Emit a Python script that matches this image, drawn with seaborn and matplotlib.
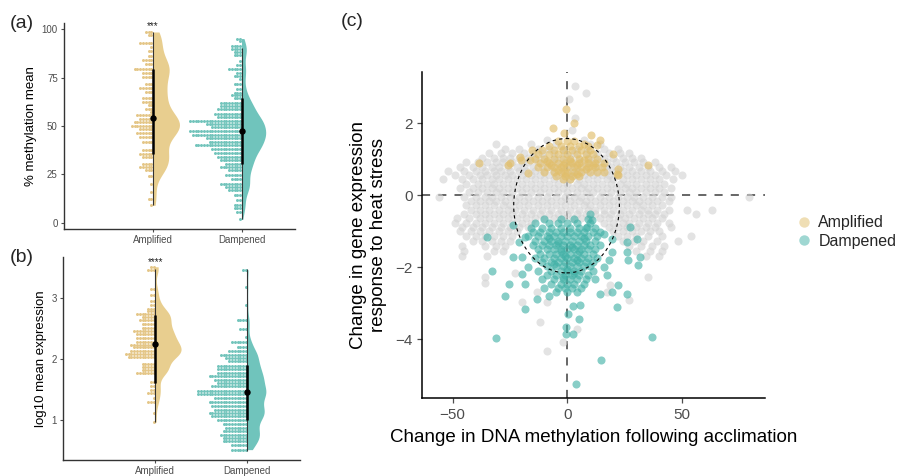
import numpy as np
import pandas as pd
import matplotlib
matplotlib.use("Agg")
import matplotlib.pyplot as plt
import seaborn as sns
from matplotlib.patches import Rectangle, Ellipse
from matplotlib.lines import Line2D

sns.set_theme(style="ticks")
plt.rcParams['font.family'] = ['Liberation Sans', 'DejaVu Sans']

# ---------------- data ----------------
groups = ["Amplified", "Dampened"]
col_amp = "#E1BE6A"
col_damp = "#40B0A6"
col_gray = "#D3D3D3"
dot_cols = ["#E4C687", "#72C4BB"]

# (a) % methylation mean : dot-plot rows (value, count)
a_amp_vals = [98.6, 96.9, 93.1, 90.8, 88.6, 86.2, 84.0, 82.2, 79.6, 77.6, 75.3, 71.9, 69.6,
              67.6, 64.5, 62.4, 60.7, 58.6, 57.2, 55.8, 53.8, 52.1, 50.0, 48.3, 46.2, 44.5,
              41.7, 37.4, 35.7, 34.0, 30.5, 28.8, 27.1, 24.1, 20.2, 15.9, 12.4, 9.0]
a_amp_counts = [3, 2, 5, 1, 2, 2, 4, 3, 7, 4, 4, 3, 5, 3, 4, 4, 2, 3, 1, 6, 5, 7, 8, 5, 6, 5,
                4, 4, 5, 4, 4, 5, 3, 2, 1, 1, 2, 1]
a_damp_vals = [95.2, 93.8, 91.4, 89.6, 88.3, 86.9, 83.4, 81.7, 79.6, 77.6, 75.9, 74.1, 71.7,
               69.3, 67.2, 65.9, 64.5, 62.1, 60.3, 58.6, 56.4, 54.7, 52.6, 51.0, 49.5, 47.2,
               45.5, 43.8, 41.7, 40.0, 38.3, 36.2, 34.2, 32.4, 30.5, 28.8, 27.1, 24.8, 22.8,
               20.2, 18.5, 16.7, 14.2, 11.6, 9.3, 7.6, 5.5, 1.7]
a_damp_counts = [2, 1, 4, 4, 3, 3, 1, 2, 5, 2, 3, 1, 3, 2, 3, 4, 3, 8, 8, 9, 10, 9, 19, 13, 11,
                 19, 18, 13, 12, 17, 11, 10, 9, 8, 6, 8, 5, 6, 4, 8, 6, 5, 3, 2, 3, 3, 2, 1]
a_point = [54.3, 47.6]
a_thick = [(35.7, 79.6), (30.5, 64.5)]
a_thin = [(9.0, 98.6), (2.0, 90.5)]
a_stars = "***"
a_violin_width = [0.60, 0.54]

# (b) log10 mean expression : dot-plot rows (value, count)
b_amp_vals = [3.52, 3.47, 3.16, 3.06, 2.96, 2.90, 2.83, 2.79, 2.74, 2.69, 2.64, 2.58, 2.52,
              2.46, 2.41, 2.35, 2.29, 2.24, 2.20, 2.14, 2.09, 2.04, 1.93, 1.88, 1.83, 1.78,
              1.63, 1.57, 1.50, 1.45, 1.37, 1.30, 1.12, 0.97]
b_amp_counts = [2, 3, 2, 2, 2, 2, 3, 3, 7, 5, 6, 5, 5, 8, 7, 7, 7, 9, 8, 9, 11, 10, 5, 5, 5, 7,
                2, 2, 2, 3, 1, 3, 1, 1]
b_damp_vals = [3.47, 3.18, 2.90, 2.64, 2.50, 2.36, 2.28, 2.21, 2.13, 2.08, 2.02, 1.97, 1.90,
               1.85, 1.78, 1.72, 1.67, 1.61, 1.56, 1.49, 1.43, 1.37, 1.30, 1.23, 1.17, 1.12,
               1.07, 1.01, 0.94, 0.87, 0.82, 0.76, 0.71, 0.66, 0.59, 0.52]
b_damp_counts = [2, 1, 1, 4, 3, 1, 6, 4, 7, 10, 8, 7, 11, 11, 11, 14, 12, 11, 13, 18, 18, 12,
                 14, 13, 12, 14, 13, 11, 9, 8, 9, 10, 9, 9, 6, 6]
b_point = [2.26, 1.46]
b_thick = [(1.62, 2.73), (1.00, 1.91)]
b_thin = [(0.98, 3.48), (0.50, 3.48)]
b_stars = "****"
b_violin_width = [0.56, 0.40]

# (c) scatter: gray cloud given as rows (y, [x values])
gray_rows = [
    (3.04, [3.3]), (2.85, [8.1]), (2.69, [0.6]), (2.14, [3.3]), (1.81, [1.9]),
    (1.55, [-9, 7]),
    (1.42, [-31, -16, -5, 10, 14]),
    (1.30, [-27, -21, -13, -8, -2, 4, 9, 16, 22]),
    (1.17, [-34, -29, -24, -19, -15, -11, -6, -1, 3, 8, 13, 18, 23, 27]),
    (1.04, [-37, -32, -28, -25, -21, -17, -14, -10, -6, -3, 1, 5, 9, 12, 16, 20, 24, 28, 32]),
    (0.92, [-44, -39, -35, -31, -28, -24, -20, -17, -13, -9, -5, -1, 2, 6, 10, 14, 17, 21, 25, 29, 33, 38]),
    (0.80, [-47, -41, -37, -33, -30, -26, -22, -19, -15, -11, -7, -3, 1, 4, 8, 12, 16, 19, 23, 27, 31, 35, 40, 45]),
    (0.68, [-52, -45, -40, -36, -32, -29, -25, -21, -18, -14, -10, -6, -2, 2, 5, 9, 13, 17, 21, 24, 28, 32, 36, 41, 47]),
    (0.56, [-49, -43, -38, -35, -31, -27, -24, -20, -16, -12, -8, -4, 0, 3, 7, 11, 15, 18, 22, 26, 30, 34, 38, 43, 50]),
    (0.44, [-54, -46, -41, -37, -33, -30, -26, -22, -18, -14, -10, -6, -2, 1, 5, 9, 13, 17, 20, 24, 28, 32, 36, 40, 46]),
    (0.32, [-44, -39, -35, -32, -28, -24, -20, -16, -12, -8, -4, 0, 4, 7, 11, 15, 19, 23, 26, 30, 34, 38, 42]),
    (0.20, [-47, -41, -37, -33, -30, -26, -22, -18, -14, -10, -6, -2, 2, 6, 9, 13, 17, 21, 25, 28, 32, 36, 40, 45]),
    (0.08, [-43, -39, -35, -31, -28, -24, -20, -16, -12, -8, -4, 0, 4, 8, 11, 15, 19, 23, 27, 30, 34, 38, 42]),
    (-0.04, [-56, -45, -40, -36, -33, -29, -25, -21, -17, -13, -9, -5, -1, 3, 6, 10, 14, 18, 22, 26, 29, 33, 37, 41, 45, 79]),
    (-0.16, [-42, -38, -34, -31, -27, -23, -19, -15, -11, -7, -3, 1, 5, 8, 12, 16, 20, 24, 28, 31, 35, 39, 44]),
    (-0.28, [-44, -40, -36, -32, -28, -25, -21, -17, -13, -9, -5, -1, 3, 7, 10, 14, 18, 22, 26, 30, 33, 37, 41]),
    (-0.40, [-42, -38, -34, -30, -26, -23, -19, -15, -11, -7, -3, 1, 5, 9, 12, 16, 20, 24, 28, 32, 35, 39, 44, 52, 63]),
    (-0.52, [-45, -40, -36, -32, -28, -24, -20, -16, -12, -8, -4, 0, 4, 8, 12, 16, 19, 23, 27, 31, 35, 38, 42, 56]),
    (-0.64, [-48, -43, -38, -34, -30, -26, -22, -18, -14, -10, -6, -2, 2, 6, 10, 14, 18, 22, 25, 29, 33, 37, 41]),
    (-0.76, [-49, -44, -40, -36, -32, -28, -24, -20, -16, 16, 20, 24, 27, 31, 35, 39, 44]),
    (-0.88, [-46, -41, -37, -33, -29, -25, -21, -17, 18, 22, 26, 30, 34, 38, 45]),
    (-1.00, [-47, -42, -38, -34, -30, -26, -22, 20, 24, 28, 32, 36, 40]),
    (-1.12, [-44, -40, -36, -32, -28, -24, 22, 26, 30, 35, 41, 54]),
    (-1.26, [-41, -37, -33, -29, -25, 24, 29, 33, 39, 48]),
    (-1.40, [-46, -36, -31, -27, 27, 32, 37, 42]),
    (-1.55, [-45, -32, -28, 30, 36, 41]),
    (-1.68, [-46, -35, 34, 40]),
    (-2.15, [-23]), (-2.27, [-36, 35]), (-2.45, [-36]), (-2.51, [18.6]),
    (-2.69, [-13.3, 17]), (-2.92, [27]), (-2.97, [-20, -9]),
    (-3.53, [-12]), (-3.71, [4]), (-4.09, [-2]), (-4.32, [-9]),
]

amp_pts = [(-38.7, 0.91), (-24.9, 0.91), (-25.7, 0.84), (-20.6, 1.07), (-16.2, 0.97),
           (-17.0, 0.63), (-15.5, 1.25), (35.2, 0.84), (22.2, 0.74), (22.2, 0.56),
           (20.0, 1.16), (15.7, 0.65), (14.2, 1.53), (12.8, 1.39), (10.3, 1.67), (7.0, 1.44),
           (-6.1, 1.86), (-1.7, 1.72), (3.0, 2.02), (-0.6, 2.41), (-20.3, 0.99), (21.5, 0.60),
           (-4, 1.50), (0, 1.50), (3, 1.50),
           (-8, 1.38), (-3, 1.38), (1, 1.38), (5, 1.38), (9, 1.38),
           (-11, 1.26), (-6, 1.26), (-2, 1.26), (2, 1.26), (6, 1.26), (10, 1.26),
           (-13, 1.14), (-8, 1.14), (-4, 1.14), (0, 1.14), (4, 1.14), (8, 1.14), (11, 1.14),
           (-14, 1.02), (-10, 1.02), (-6, 1.02), (-2, 1.02), (1, 1.02), (5, 1.02), (9, 1.02), (13, 1.02),
           (-12, 0.90), (-8, 0.90), (-4, 0.90), (-1, 0.90), (2, 0.90), (5, 0.90), (9, 0.90), (12, 0.90), (16, 0.90),
           (-13, 0.78), (-9, 0.78), (-6, 0.78), (-3, 0.78), (0, 0.78), (3, 0.78), (6, 0.78), (9, 0.78), (12, 0.78), (15, 0.78),
           (-10, 0.66), (-6, 0.66), (-3, 0.66), (0, 0.66), (3, 0.66), (6, 0.66), (10, 0.66), (13, 0.66),
           (-5, 0.55), (-1, 0.55), (2, 0.55), (5, 0.55), (-2, 0.45), (1, 0.45),
           (-7, 0.84), (-2, 0.84), (4, 0.84), (8, 0.72), (-4, 0.70), (1, 0.96), (7, 0.98),
           (-9, 0.96), (11, 0.84), (-1, 0.62), (4, 0.60)]

damp_pts = [(9.9, -0.51), (10.6, -0.70), (8.4, -0.88), (-23.5, -0.82), (-35.0, -1.16),
            (-18.4, -1.16), (27.3, -0.88), (30.2, -1.21), (25.8, -1.30), (19.3, -1.21),
            (15.7, -1.07), (19.3, -1.58), (25.8, -1.58), (26.5, -1.81), (31.6, -1.72),
            (30.9, -1.95), (-23.8, -1.72), (-19.9, -1.72), (-32.9, -2.12), (-25.6, -2.46),
            (-27.1, -2.79), (-18.4, -2.46), (-18.4, -3.16), (-13.3, -2.88), (-8.2, -2.79),
            (14.2, -2.74), (19.3, -2.69), (25.8, -2.74), (21.5, -3.11), (17.1, -2.23),
            (15.7, -2.00), (0.1, -3.30), (2.3, -3.08), (5.2, -3.44), (-0.5, -3.67),
            (-0.5, -3.85), (2.3, -3.85), (5.5, -3.06), (-31.0, -3.96), (37.0, -3.93),
            (14.7, -4.58), (3.6, -5.25), (-21, -1.30), (-17, -2.00), (-20, -2.20),
            (18, -1.80), (22, -2.50),
            (-10, -0.65), (-3, -0.65), (3, -0.65), (9, -0.65),
            (-14, -0.78), (-8, -0.78), (-4, -0.78), (0, -0.78), (4, -0.78), (10, -0.78),
            (-16, -0.90), (-11, -0.90), (-7, -0.90), (-3, -0.90), (1, -0.90), (5, -0.90), (8, -0.90), (12, -0.90),
            (-15, -1.02), (-12, -1.02), (-8, -1.02), (-5, -1.02), (-2, -1.02), (1, -1.02), (4, -1.02), (7, -1.02), (11, -1.02), (14, -1.02),
            (-17, -1.14), (-13, -1.14), (-9, -1.14), (-6, -1.14), (-3, -1.14), (0, -1.14), (3, -1.14), (6, -1.14), (9, -1.14), (13, -1.14),
            (-14, -1.26), (-10, -1.26), (-7, -1.26), (-4, -1.26), (-1, -1.26), (2, -1.26), (5, -1.26), (8, -1.26), (12, -1.26),
            (-15, -1.38), (-11, -1.38), (-8, -1.38), (-5, -1.38), (-2, -1.38), (1, -1.38), (4, -1.38), (7, -1.38), (10, -1.38), (14, -1.38),
            (-13, -1.50), (-9, -1.50), (-6, -1.50), (-3, -1.50), (0, -1.50), (3, -1.50), (6, -1.50), (9, -1.50), (12, -1.50),
            (-12, -1.62), (-8, -1.62), (-5, -1.62), (-2, -1.62), (1, -1.62), (4, -1.62), (7, -1.62), (11, -1.62),
            (-14, -1.74), (-10, -1.74), (-6, -1.74), (-3, -1.74), (0, -1.74), (3, -1.74), (6, -1.74), (9, -1.74), (13, -1.74),
            (-11, -1.86), (-7, -1.86), (-4, -1.86), (-1, -1.86), (2, -1.86), (5, -1.86), (8, -1.86), (11, -1.86),
            (-9, -1.98), (-5, -1.98), (-2, -1.98), (1, -1.98), (4, -1.98), (7, -1.98), (10, -1.98),
            (-13, -2.10), (-7, -2.10), (-3, -2.10), (0, -2.10), (3, -2.10), (6, -2.10), (11, -2.10),
            (-9, -2.22), (-5, -2.22), (-1, -2.22), (2, -2.22), (5, -2.22), (9, -2.22),
            (-11, -2.34), (-6, -2.34), (-2, -2.34), (1, -2.34), (4, -2.34), (8, -2.34), (12, -2.34),
            (-7, -2.46), (-3, -2.46), (0, -2.46), (3, -2.46), (7, -2.46),
            (-10, -2.58), (-4, -2.58), (-1, -2.58), (2, -2.58), (6, -2.58),
            (-5, -2.70), (0, -2.70), (4, -2.70),
            (-4, -1.32), (2, -1.44), (-1, -1.68), (4, -1.80), (-6, -1.92), (0, -2.04),
            (-3, -1.56), (5, -1.56), (-8, -1.20), (7, -1.20), (-2, -2.28), (3, -2.16)]

ellipse_center = (-0.4, -0.29)
ellipse_size = (46.0, 3.74)

# ---------------- figure ----------------
fig = plt.figure(figsize=(9.01, 4.76), dpi=100)
W, H = 901, 476


def px_axes(x0, y0, x1, y1):
    return fig.add_axes([x0 / W, 1 - y1 / H, (x1 - x0) / W, (y1 - y0) / H])


ax_a = px_axes(64, 22.7, 295, 228.7)
ax_b = px_axes(63, 257, 300, 460)
ax_c = px_axes(422.3, 71.7, 765, 398.3)

tick_gray = "#4D4D4D"
pal = {"Amplified": col_amp, "Dampened": col_damp}


def raincloud(ax, sets, spacing, point, thick, thin, stars, star_y, widths, bw):
    for i, (g, (v, c)) in enumerate(zip(groups, sets)):
        df = pd.DataFrame({"group": g, "value": np.repeat(v, c)})
        n0 = len(ax.collections)
        sns.violinplot(data=df, x="group", y="value", hue="group", order=groups,
                       hue_order=groups, palette=pal, inner=None, cut=0,
                       bw_adjust=bw, density_norm="width", width=widths[i], linewidth=0,
                       saturation=1, legend=False, ax=ax)
        for coll in ax.collections[n0:]:
            ext = coll.get_paths()[0].get_extents()
            cx = (ext.x0 + ext.x1) / 2
            rect = Rectangle((cx, -1e4), 5, 2e4, transform=ax.transData)
            coll.set_clip_path(rect)
            coll.set_alpha(0.75)
    for i, ((v, c), col) in enumerate(zip(sets, dot_cols)):
        xs, ys = [], []
        for val, n in zip(v, c):
            for k in range(n):
                xs.append(i - spacing * (k + 0.5))
                ys.append(val)
        sns.scatterplot(x=xs, y=ys, color=col, s=4.6, linewidth=0, alpha=1.0,
                        ax=ax, legend=False, zorder=3)
        ax.vlines(i, thin[i][0], thin[i][1], color="#333333", lw=0.8, zorder=4)
        ax.vlines(i, thick[i][0], thick[i][1], color="black", lw=1.8, zorder=5)
        ax.plot([i], [point[i]], "o", color="black", ms=3.6, zorder=6)
    ax.text(0, star_y, stars, ha="center", va="center", fontsize=7, color="#222222")
    ax.set_xlabel("")
    ax.set_xticks([0, 1])
    ax.set_xticklabels(groups)
    for s in ["top", "right"]:
        ax.spines[s].set_visible(False)
    for s in ["left", "bottom"]:
        ax.spines[s].set_color("#333333")
        ax.spines[s].set_linewidth(1.0)
    ax.tick_params(axis="both", labelsize=7, colors=tick_gray, length=2.5, width=0.8,
                   pad=2)


raincloud(ax_a, [(a_amp_vals, a_amp_counts), (a_damp_vals, a_damp_counts)], 0.0315,
          a_point, a_thick, a_thin, a_stars, 101.6, a_violin_width, 0.6)
ax_a.set_xlim(-1.0, 1.6)
ax_a.set_ylim(-3.1, 103.4)
ax_a.set_yticks([0, 25, 50, 75, 100])
ax_a.set_ylabel("% methylation mean", fontsize=9.5, color="black", labelpad=3)

raincloud(ax_b, [(b_amp_vals, b_amp_counts), (b_damp_vals, b_damp_counts)], 0.0304,
          b_point, b_thick, b_thin, b_stars, 3.6, b_violin_width, 0.6)
ax_b.set_xlim(-1.0, 1.57)
ax_b.set_ylim(0.35, 3.68)
ax_b.set_yticks([1, 2, 3])
ax_b.set_ylabel("log10 mean expression", fontsize=9.5, color="black", labelpad=3)

# ---- (c) ----
ax = ax_c
ax.axhline(0, color="#5A5A5A", lw=1.3, ls=(0, (4.5, 4.5)), zorder=1)
ax.axvline(0, color="#5A5A5A", lw=1.3, ls=(0, (4.5, 4.5)), zorder=1)
gx = [x for y, xs in gray_rows for x in xs]
gy = [y for y, xs in gray_rows for x in xs]
sns.scatterplot(x=gx, y=gy, color=col_gray, s=34, linewidth=0, alpha=0.62, ax=ax,
                legend=False, zorder=2)
sns.scatterplot(x=[p[0] for p in amp_pts], y=[p[1] for p in amp_pts], color=col_amp,
                s=34, linewidth=0, alpha=0.65, ax=ax, legend=False, zorder=3)
sns.scatterplot(x=[p[0] for p in damp_pts], y=[p[1] for p in damp_pts], color=col_damp,
                s=34, linewidth=0, alpha=0.62, ax=ax, legend=False, zorder=3)
ax.add_patch(Ellipse(ellipse_center, ellipse_size[0], ellipse_size[1], fill=False,
                     edgecolor="black", lw=0.8, ls=(0, (3, 3)), zorder=5))
ax.set_xlim(-63.2, 86)
ax.set_ylim(-5.65, 3.44)
ax.set_xticks([-50, 0, 50])
ax.set_yticks([-4, -2, 0, 2])
for s in ["top", "right"]:
    ax.spines[s].set_visible(False)
for s in ["left", "bottom"]:
    ax.spines[s].set_color("black")
    ax.spines[s].set_linewidth(1.1)
ax.tick_params(axis="both", labelsize=11, colors=tick_gray, length=3.5, width=0.9, pad=3.5)
ax.set_xlabel("Change in DNA methylation following acclimation", fontsize=13.5,
              color="black", labelpad=5)
ax.set_ylabel("Change in gene expression\nresponse to heat stress", fontsize=13.5,
              color="black", labelpad=6, linespacing=1.2)

handles = [Line2D([], [], marker="o", ls="", color=col_amp, alpha=0.5, ms=7.5, mew=0),
           Line2D([], [], marker="o", ls="", color=col_damp, alpha=0.5, ms=7.5, mew=0)]
fig.legend(handles, groups, loc="center left", bbox_to_anchor=(796 / W, 1 - 232 / H),
           frameon=False, fontsize=11.5, handlelength=1.0, handletextpad=0.4,
           labelspacing=0.2, borderpad=0, borderaxespad=0)

fig.text(10 / W, 1 - 23 / H, "(a)", fontsize=14, va="center", ha="left")
fig.text(10 / W, 1 - 258 / H, "(b)", fontsize=14, va="center", ha="left")
fig.text(341 / W, 1 - 21 / H, "(c)", fontsize=14, va="center", ha="left")

fig.savefig("out.png", dpi=100)
